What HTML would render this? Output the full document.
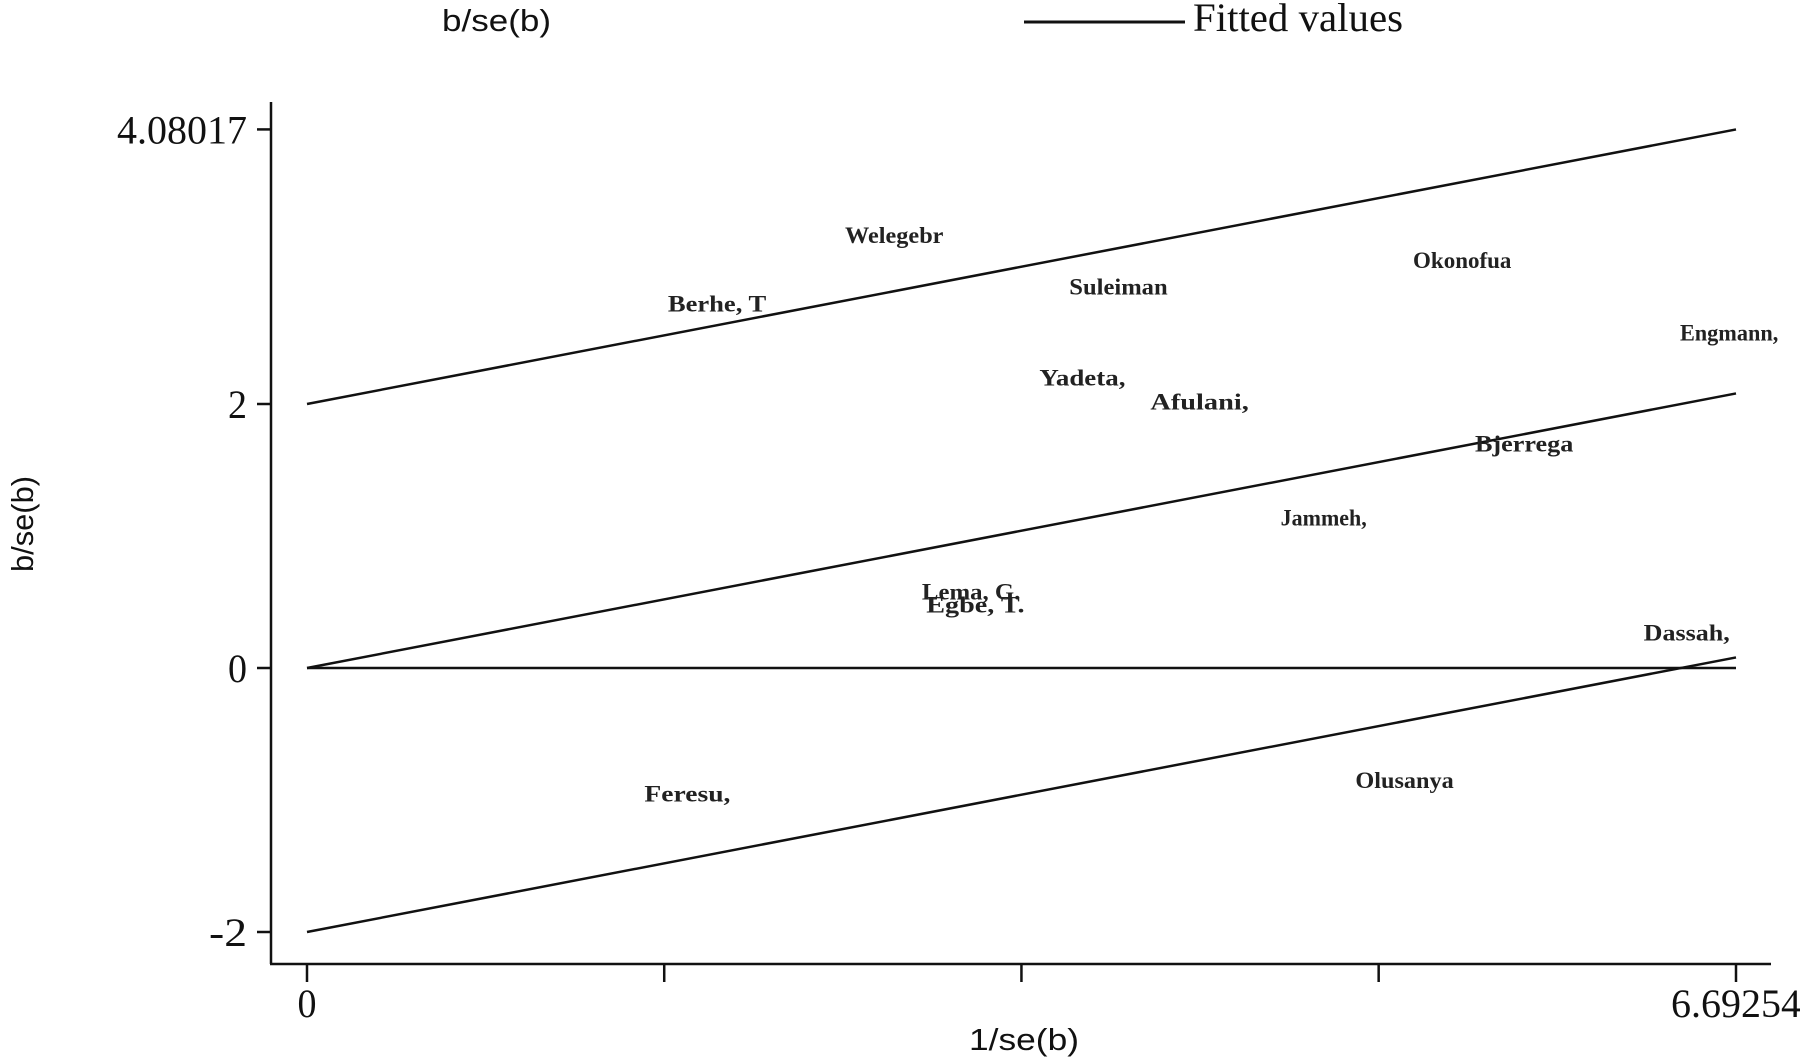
<!DOCTYPE html>
<html><head><meta charset="utf-8"><style>
html,body{margin:0;padding:0;background:#fff;}
svg{display:block;}
.tk{font-family:"Liberation Serif",serif;font-size:40px;fill:#111;}
.lb{font-family:"Liberation Serif",serif;font-size:23px;font-weight:bold;fill:#222;}
.ti{font-family:"Liberation Sans",sans-serif;font-size:31px;fill:#111;}
</style></head><body>
<svg id="chart" width="1800" height="1064" viewBox="0 0 1800 1064" xmlns="http://www.w3.org/2000/svg">
<g id="legend">
<text class="ti" x="442" y="31" textLength="109" lengthAdjust="spacingAndGlyphs">b/se(b)</text>
<line x1="1024" y1="22" x2="1185" y2="22" stroke="#111" stroke-width="3"/>
<text class="tk" x="1193" y="31" font-size="36" textLength="210" lengthAdjust="spacingAndGlyphs">Fitted values</text>
</g>
<text class="ti" transform="translate(33,524) rotate(-90)" text-anchor="middle" textLength="96" lengthAdjust="spacingAndGlyphs">b/se(b)</text>
<text class="ti" x="1024" y="1050" text-anchor="middle" textLength="110" lengthAdjust="spacingAndGlyphs">1/se(b)</text>
<g id="axes"></g><g id="lines"></g><g id="labels"></g>
</svg>
<script>
const studies = ["Welegebr","Berhe, T","Suleiman","Okonofua","Engmann,","Yadeta,","Afulani,","Bjerrega","Jammeh,","Lema, G.","Egbe, T.","Dassah,","Feresu,","Olusanya"];
const precision = [2.52,1.69,3.57,5.18,6.43,3.43,3.95,5.47,4.56,2.88,2.90,6.26,1.58,4.91];
const zscore = [3.28,2.76,2.89,3.09,2.54,2.20,2.02,1.70,1.14,0.58,0.48,0.27,-0.95,-0.85];
const lineStartY = [2,0,-2,0];
const lineEndY = [4.08017,2.08,0.08,0];
const xTicks = [0,1.673,3.346,5.019,6.69254];
const xTickLabels = ["0","","","","6.69254"];
const yTicks = [-2,0,2,4.08017];
const yTickLabels = ["-2","0","2","4.08017"];
const xMax = 6.69254;

const NS="http://www.w3.org/2000/svg";
const X = v => 307 + v*(1429/6.69254);
const Y = v => 668 - v*132;
function mk(tag, attrs, parent){const e=document.createElementNS(NS,tag);for(const k in attrs)e.setAttribute(k,attrs[k]);parent.appendChild(e);return e;}
const axes=document.getElementById('axes');
let a=mk('line',{x1:271,y1:102,x2:271,y2:964,stroke:'#111','stroke-width':2.5},axes);


a=mk('line',{x1:270,y1:964,x2:1771,y2:964,stroke:'#111','stroke-width':2.5},axes);


yTicks.forEach((v,i)=>{
  const t=mk('line',{x1:257,y1:Y(v),x2:271,y2:Y(v),stroke:'#111','stroke-width':2.5},axes);
  
  
  const s=mk('text',{class:'tk',x:247,y:Y(v)+14,'text-anchor':'end'},axes);
  
  
  s.setAttribute('lengthAdjust','spacingAndGlyphs');
  s.setAttribute('textLength',yTickLabels[i].length>3?130:yTickLabels[i].length*19);
  s.textContent=yTickLabels[i];
});
xTicks.forEach((v,i)=>{
  const t=mk('line',{x1:X(v),y1:964,x2:X(v),y2:982,stroke:'#111','stroke-width':2.5},axes);
  
  
  if(xTickLabels[i]){
    const s=mk('text',{class:'tk',x:X(v),y:1017,'text-anchor':'middle'},axes);
    
    
    s.setAttribute('lengthAdjust','spacingAndGlyphs');
    s.setAttribute('textLength',xTickLabels[i].length>3?130:19);
    s.textContent=xTickLabels[i];
  }
});
const lines=document.getElementById('lines');
const lineNames=['upper-limit-line','fitted-line','lower-limit-line','zero-line'];
lineStartY.forEach((v,i)=>{
  const l=mk('line',{x1:X(0),y1:Y(v),x2:X(xMax),y2:Y(lineEndY[i]),stroke:'#111','stroke-width':2.5},lines);
  
  
});
const labels=document.getElementById('labels');
studies.forEach((s,i)=>{
  const t=mk('text',{class:'lb',x:X(precision[i]),y:Y(zscore[i])+8,textLength:s.length*12.3,lengthAdjust:'spacingAndGlyphs'},labels);
  
  
  t.textContent=s;
});
</script>
</body></html>
